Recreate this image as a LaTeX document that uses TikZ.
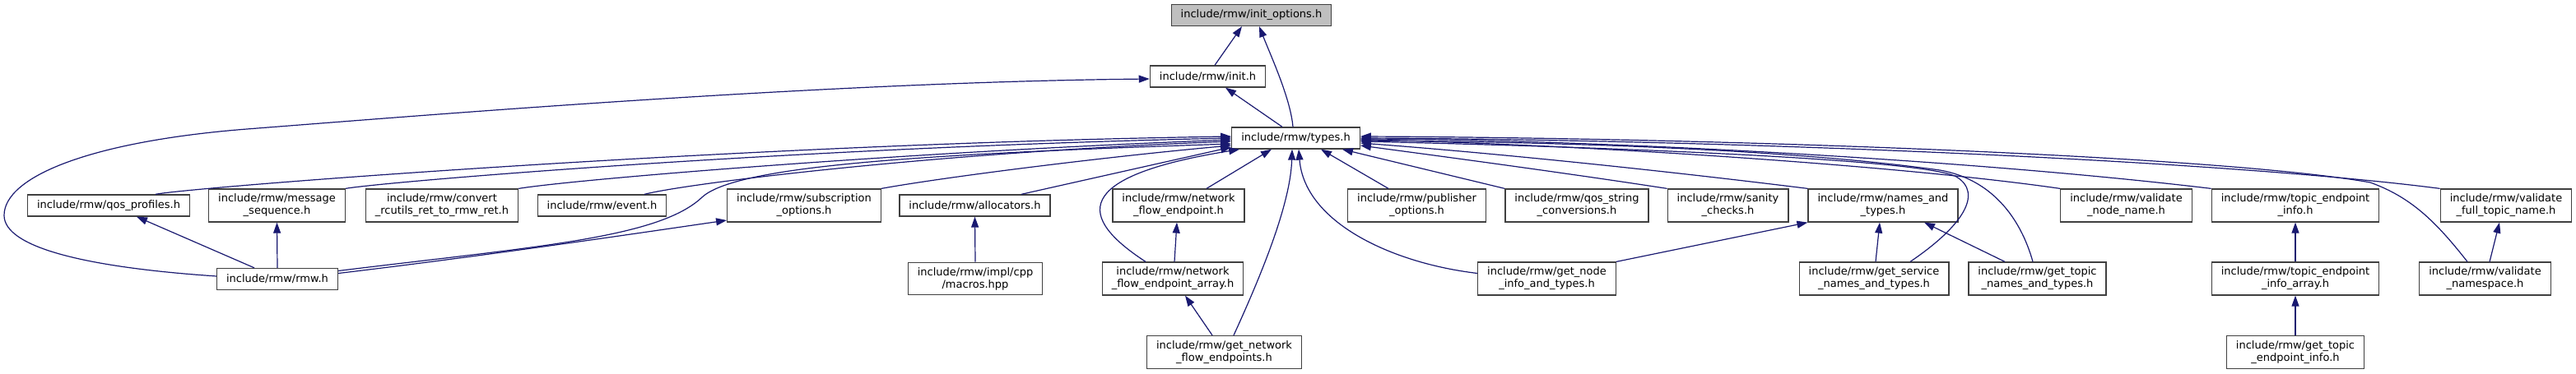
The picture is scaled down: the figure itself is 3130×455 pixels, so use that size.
\documentclass[tikz,border=0pt]{standalone}
\usepackage{fontspec}
\setmainfont{DejaVu Sans}
\usetikzlibrary{arrows.meta}
\definecolor{edgeblue}{HTML}{191970}
\definecolor{boxborder}{HTML}{404040}
\definecolor{rootfill}{HTML}{BFBFBF}
\tikzset{
    include graph/.style = {x=1pt, y=-1pt, >={Triangle[length=13pt,width=9pt]}},
    file/.style          = {draw=boxborder, line width=1.3pt, fill=white,
                            align=center, font=\fontsize{13}{15}\selectfont,
                            inner xsep=11.5pt, inner ysep=6pt, minimum height=26pt},
    root/.style          = {file, fill=rootfill},
    dep/.style           = {->, draw=edgeblue, line width=1.2pt}
}

\begin{document}
\begin{tikzpicture}[include graph]
\useasboundingbox (0,0) rectangle (3130,455);

% Header files, one row per include depth.
\node[root] (initopts) at (1520.5,18.5) {include/rmw/init\_options.h};
\node[file] (init) at (1467.5,93) {include/rmw/init.h};
\node[file] (types) at (1574.5,168) {include/rmw/types.h};

\foreach \name/\x/\y/\header in {
    qosprof/132/250/{include/rmw/qos\_profiles.h},
    msgseq/336.5/250/{include/rmw/message\\\_sequence.h},
    convert/537/250/{include/rmw/convert\\\_rcutils\_ret\_to\_rmw\_ret.h},
    event/731.5/250/{include/rmw/event.h},
    subopts/977/250/{include/rmw/subscription\\\_options.h},
    alloc/1184.5/250/{include/rmw/allocators.h},
    nfe/1432/250/{include/rmw/network\\\_flow\_endpoint.h},
    pubopts/1721.5/250/{include/rmw/publisher\\\_options.h},
    qosstr/1916/250/{include/rmw/qos\_string\\\_conversions.h},
    sanity/2099.5/250/{include/rmw/sanity\\\_checks.h},
    namestypes/2288/250/{include/rmw/names\_and\\\_types.h},
    valnode/2583.5/250/{include/rmw/validate\\\_node\_name.h},
    topicinfo/2789/250/{include/rmw/topic\_endpoint\\\_info.h},
    valfull/3045/250/{include/rmw/validate\\\_full\_topic\_name.h},
    rmw/337/339.5/{include/rmw/rmw.h},
    macros/1185/339/{include/rmw/impl/cpp\\/macros.hpp},
    nfearray/1425/339/{include/rmw/network\\\_flow\_endpoint\_array.h},
    getnode/1879.5/339/{include/rmw/get\_node\\\_info\_and\_types.h},
    getservice/2277/339/{include/rmw/get\_service\\\_names\_and\_types.h},
    gettopic/2475.5/339/{include/rmw/get\_topic\\\_names\_and\_types.h},
    topicarray/2789/339/{include/rmw/topic\_endpoint\\\_info\_array.h},
    valns/3019.5/339/{include/rmw/validate\\\_namespace.h},
    getnfe/1487.5/428.5/{include/rmw/get\_network\\\_flow\_endpoints.h},
    gettopicinfo/2789/428.5/{include/rmw/get\_topic\\\_endpoint\_info.h}} {
    \node[file] (\name) at (\x,\y) {\header};
}

% Top of the graph.
\draw[dep] ([xshift=8.5pt]init.north) -- ([xshift=-11.5pt]initopts.south);
\draw[dep] ([xshift=-3.5pt]types.north) .. controls (1568,120) and (1545,70) .. ([xshift=9.5pt]initopts.south);
\draw[dep] ([xshift=-16.5pt]types.north) -- ([xshift=21.5pt]init.south);
\draw[dep] ([yshift=3.5pt]rmw.west) .. controls (100,325) and (5,300) .. (5,262)
    .. controls (5,215) and (110,172) .. (300,157)
    .. controls (520,140) and (1000,100) .. ([yshift=-3pt]init.west);

% Left half, into types.h.
\draw[dep] ([xshift=57pt]qosprof.north) .. controls (230,228) and (900,175) .. ([yshift=2pt]types.west);
\draw[dep] (msgseq.north east) .. controls (460,222) and (950,180) .. (types.west);
\draw[dep] (convert.north east) .. controls (700,218) and (1100,185) .. ([yshift=-2pt]types.west);
\draw[dep] ([xshift=51.5pt]event.north) .. controls (840,222) and (1150,185) .. ([yshift=-4pt]types.west);
\draw[dep] ([yshift=10pt]rmw.east) .. controls (650,300) and (800,290) .. (853,240)
    .. controls (893,203) and (1100,188) .. ([yshift=-7pt]types.west);
\draw[dep] ([yshift=7pt]rmw.east) .. controls (600,310) and (800,280) .. ([yshift=-18pt]subopts.west);
\draw[dep] (subopts.north east) .. controls (1150,215) and (1350,190) .. ([yshift=-9pt]types.west);
\draw[dep] ([xshift=56.5pt]alloc.north) -- ([yshift=-11pt]types.west);
\draw[dep] ([xshift=-33pt]nfearray.north) .. controls (1310,265) and (1300,215) .. ([xshift=10pt]types.south west);
\draw[dep] ([xshift=34pt]nfe.north) -- ([xshift=-29.5pt]types.south);
\draw[dep] ([xshift=2pt]nfearray.north) -- ([xshift=-2pt]nfe.south);
\draw[dep] ([xshift=-14.5pt]getnfe.north) -- ([xshift=15pt]nfearray.south);
\draw[dep] ([xshift=11.5pt]getnfe.north) .. controls (1530,340) and (1568,250) .. ([xshift=-4.5pt]types.south);
\draw[dep] (macros.north) -- (alloc.south);
\draw[dep] ([xshift=-28pt]rmw.north) -- ([xshift=34pt]qosprof.south);
\draw[dep] (rmw.north) -- (msgseq.south);

% Right half, into types.h.
\draw[dep] ([xshift=-34.5pt]pubopts.north) -- ([xshift=30.5pt]types.south);
\draw[dep] (qosstr.north west) -- ([xshift=-22pt]types.south east);
\draw[dep] (sanity.north west) .. controls (1900,210) and (1750,190) .. ([yshift=-9pt]types.east);
\draw[dep] (namestypes.north west) .. controls (2000,205) and (1800,185) .. ([yshift=-6pt]types.east);
\draw[dep] ([yshift=6.5pt]getnode.west) .. controls (1690,320) and (1585,270) .. ([xshift=3.5pt]types.south);
\draw[dep] (getnode.north east) -- (namestypes.south west);
\draw[dep] ([xshift=2pt]getservice.north) -- ([xshift=-4pt]namestypes.south);
\draw[dep] ([xshift=44pt]getservice.north) .. controls (2385,275) and (2410,235) .. (2377,215)
    .. controls (2340,195) and (2000,180) .. ([yshift=-4pt]types.east);
\draw[dep] ([xshift=-39.5pt]gettopic.north) -- ([xshift=50pt]namestypes.south);
\draw[dep] ([xshift=-5.5pt]gettopic.north) .. controls (2455,265) and (2420,218) .. (2357,207)
    .. controls (2200,185) and (1950,173) .. ([yshift=-3pt]types.east);
\draw[dep] (valnode.north west) .. controls (2300,200) and (1900,175) .. ([yshift=-2pt]types.east);
\draw[dep] (topicinfo.north west) .. controls (2400,195) and (1950,170) .. ([yshift=-1pt]types.east);
\draw[dep] (valfull.north west) .. controls (2700,195) and (2100,170) .. (types.east);
\draw[dep] ([xshift=-21.5pt]valns.north) .. controls (2960,270) and (2930,240) .. (2880,222)
    .. controls (2700,190) and (2100,168) .. ([yshift=2pt]types.east);
\draw[dep] ([xshift=5.5pt]valns.north) -- ([xshift=-8pt]valfull.south);
\draw[dep] (topicarray.north) -- (topicinfo.south);
\draw[dep] (gettopicinfo.north) -- (topicarray.south);

\end{tikzpicture}
\end{document}
